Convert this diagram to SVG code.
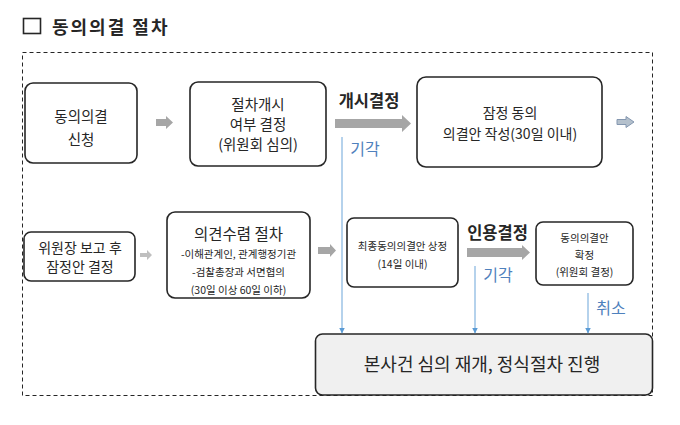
<svg xmlns="http://www.w3.org/2000/svg" width="680" height="425" viewBox="0 0 680 425">
<defs>
<marker id="bh" viewBox="0 0 6 6" refX="5.5" refY="3" markerWidth="6" markerHeight="6" markerUnits="userSpaceOnUse" orient="auto">
<path d="M0,0 L6,3 L0,6 Z" fill="#5b9bd5"/>
</marker>
<style>
text{font-family:"Noto Sans CJK KR","Noto Sans",sans-serif;fill:#262626;text-anchor:middle;dominant-baseline:central}
.box{fill:#ffffff;stroke:#262626;stroke-width:1.6}
.garrow{fill:#a6a6a6}
.blue{fill:#4f81bd}
.bl{stroke:#9dc3e6;stroke-width:1.5;fill:none;marker-end:url(#bh)}
.b{font-weight:bold}
.m{font-weight:600}
</style>
</defs>
<rect width="680" height="425" fill="#ffffff"/>
<g id="title">
<rect x="23.5" y="18.5" width="17" height="15" fill="none" stroke="#262626" stroke-width="1.6"/>
<text x="52" y="26" style="text-anchor:start;font-size:18px;letter-spacing:2px" class="b">동의의결 절차</text>
</g>
<rect id="frame" x="22.5" y="52.5" width="630" height="343" fill="none" stroke="#262626" stroke-width="1" stroke-dasharray="4,3"/>
<g id="n1"><rect class="box" x="25" y="83" width="112" height="80" rx="8"/>
<text x="81" y="115" font-size="14.5">동의의결</text><text x="81" y="138" font-size="14.5">신청</text></g>
<g id="n2"><rect class="box" x="190" y="82" width="136" height="84" rx="8"/>
<text x="258" y="103" font-size="14.5">절차개시</text><text x="258" y="123" font-size="14.5">여부 결정</text><text x="258" y="143" font-size="14.5">(위원회 심의)</text></g>
<g id="n3"><rect class="box" x="417" y="77" width="185" height="90" rx="9"/>
<text x="510" y="112" font-size="14">잠정 동의</text><text x="510" y="133" font-size="14">의결안 작성(30일 이내)</text></g>
<g id="n4"><rect class="box" x="24" y="232" width="111" height="49" rx="7"/>
<text x="80" y="247" font-size="14">위원장 보고 후</text><text x="80" y="266" font-size="14">잠정안 결정</text></g>
<g id="n5"><rect class="box" x="167" y="212" width="143" height="86" rx="8"/>
<text x="238.5" y="233" font-size="15.5">의견수렴 절차</text>
<text x="238.5" y="253" font-size="10.5">-이해관계인, 관계행정기관</text>
<text x="238.5" y="271" font-size="10.5">-검찰총장과 서면협의</text>
<text x="238.5" y="289" font-size="10.5">(30일 이상 60일 이하)</text></g>
<g id="n6"><rect class="box" x="347" y="218" width="111" height="69" rx="7"/>
<text x="402.5" y="245" font-size="10.5">최종동의의결안 상정</text><text x="402.5" y="263" font-size="10.5">(14일 이내)</text></g>
<g id="n7"><rect class="box" x="536" y="222" width="97" height="63" rx="7"/>
<text x="584.5" y="237" font-size="10.5">동의의결안</text><text x="584.5" y="254" font-size="10.5">확정</text><text x="584.5" y="271" font-size="10.5">(위원회 결정)</text></g>
<g id="n8"><rect x="315.5" y="334" width="337" height="61" rx="7" fill="#f0f0f0" stroke="#262626" stroke-width="1.6"/>
<text x="482" y="363" font-size="18">본사건 심의 재개, 정식절차 진행</text></g>
<g id="connectors">
<path class="garrow" d="M156,119 H166 V116 L173,122.5 L166,129 V126 H156 Z"/>
<path d="M617,119.5 H626 V116.5 L634,122 L626,127.5 V124.5 H617 Z" fill="#b4c0cc" stroke="#8497b0" stroke-width="1"/>
<path class="garrow" d="M335,119 H402 V115 L411,123.5 L402,132 V128 H335 Z"/>
<text x="369" y="100" font-size="16.5" class="m">개시결정</text>
<path d="M140,253 H147 V250 L152,255 L147,260 V257 H140 Z" fill="#bfbfbf"/>
<path class="garrow" d="M318,247 H330 V244 L336,250.5 L330,257 V254 H318 Z"/>
<path class="garrow" d="M467,248 H522 V245 L530,252.5 L522,260 V257 H467 Z"/>
<text x="497.5" y="232" font-size="16.5" class="m">인용결정</text>
<path class="bl" d="M342,137 V333"/>
<path class="bl" d="M475,266 V333"/>
<path class="bl" d="M588,293 V333"/>
<text x="365" y="148" font-size="16" style="fill:#4f81bd">기각</text>
<text x="498" y="274" font-size="16" style="fill:#4f81bd">기각</text>
<text x="611" y="307" font-size="16" style="fill:#4f81bd">취소</text>
</g>
</svg>
